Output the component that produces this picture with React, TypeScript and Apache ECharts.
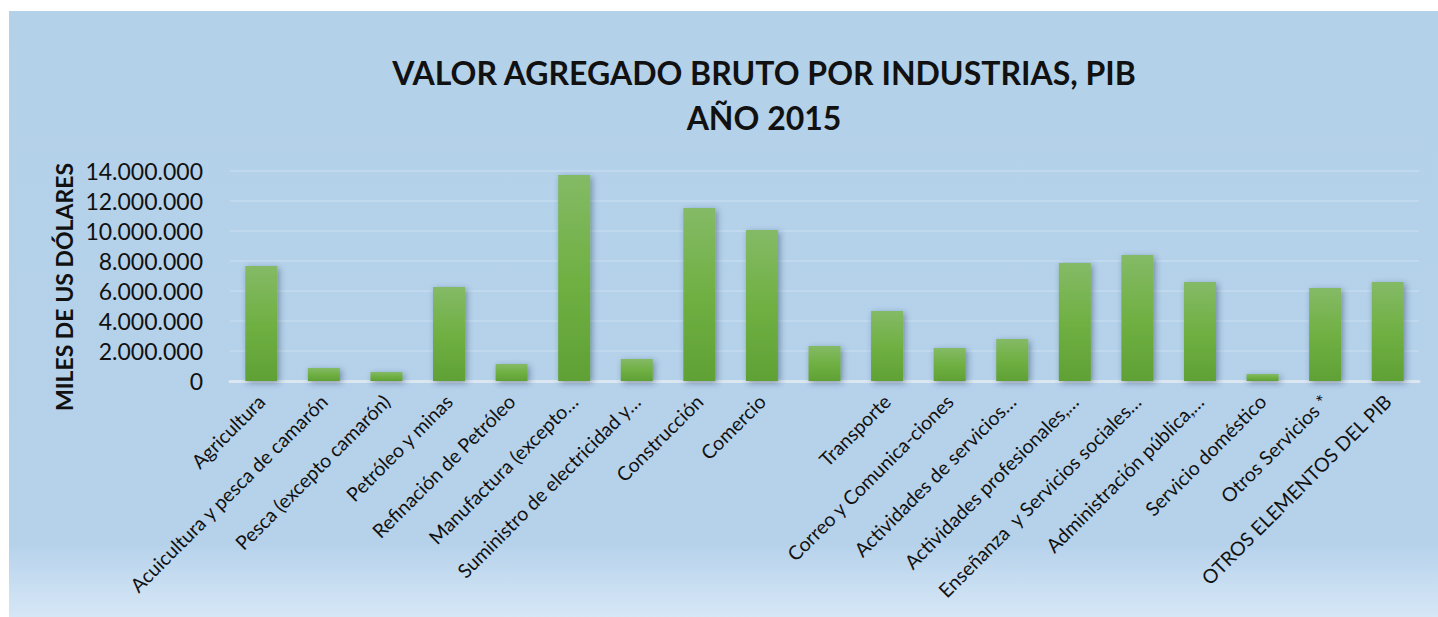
import React, { useEffect, useRef } from "react";
import * as echarts from "echarts";

const TITLE = "VALOR AGREGADO BRUTO POR INDUSTRIAS, PIB\nAÑO 2015";
const Y_NAME = "MILES DE US DÓLARES";

const categories: string[] = [
  "Agricultura",
  "Acuicultura y pesca de camarón",
  "Pesca (excepto camarón)",
  "Petróleo y minas",
  "Refinación de Petróleo",
  "Manufactura (excepto…",
  "Suministro de electricidad y…",
  "Construcción",
  "Comercio",
  "",
  "Transporte",
  "Correo y Comunica-ciones",
  "Actividades de servicios…",
  "Actividades profesionales,…",
  "Enseñanza  y Servicios sociales…",
  "Administración pública,…",
  "Servicio doméstico",
  "Otros Servicios *",
  "OTROS ELEMENTOS DEL PIB",
];

const values: number[] = [
  7670000, 870000, 600000, 6270000, 1130000, 13730000, 1470000, 11530000,
  10070000, 2330000, 4670000, 2200000, 2800000, 7870000, 8400000, 6600000,
  470000, 6200000, 6600000,
];

const yTicks = { min: 0, max: 14000000, interval: 2000000 };

const fmt = (v: number) =>
  v === 0 ? "0" : String(Math.round(v)).replace(/\B(?=(\d{3})+(?!\d))/g, ".");

export default function App() {
  const ref = useRef<HTMLDivElement>(null);
  useEffect(() => {
    if (!ref.current) return;
    const chart = echarts.init(ref.current, undefined, { renderer: "svg" });
    const font = "Lato, 'Open Sans', sans-serif";
    chart.setOption({
      animation: false,
      backgroundColor: {
        type: "linear",
        x: 0,
        y: 0,
        x2: 0,
        y2: 1,
        colorStops: [
          { offset: 0, color: "#b4d1ea" },
          { offset: 0.88, color: "#b6d2eb" },
          { offset: 1, color: "#d6e7f6" },
        ],
      },
      title: {
        text: TITLE,
        left: 750,
        top: 34,
        textAlign: "center",
        textStyle: {
          fontFamily: font,
          fontWeight: "bold",
          fontSize: 32,
          lineHeight: 45,
          color: "#111",
        },
      },
      graphic: [
        {
          type: "text",
          x: 55,
          y: 276,
          rotation: Math.PI / 2,
          style: {
            text: Y_NAME,
            font: `bold 23px ${font}`,
            fill: "#111",
            textAlign: "center",
            textVerticalAlign: "middle",
          },
        },
      ],
      grid: { left: 221, right: 19, top: 160, bottom: 236, containLabel: false },
      xAxis: {
        type: "category",
        data: categories,
        axisTick: { show: false },
        axisLine: { lineStyle: { color: "#dbe6f1", width: 3 } },
        axisLabel: {
          interval: 0,
          rotate: 45,
          margin: 17,
          fontFamily: font,
          fontSize: 19.5,
          color: "#111",
        },
      },
      yAxis: {
        type: "value",
        min: yTicks.min,
        max: yTicks.max,
        interval: yTicks.interval,
        axisLine: { show: false },
        axisTick: { show: false },
        splitLine: { lineStyle: { color: "#c0d9ee", width: 2 } },
        axisLabel: {
          formatter: fmt,
          margin: 27,
          fontFamily: font,
          fontSize: 23,
          color: "#111",
        },
      },
      series: [
        {
          type: "bar",
          data: values,
          barWidth: 32,
          itemStyle: {
            color: {
              type: "linear",
              x: 0,
              y: 0,
              x2: 0,
              y2: 1,
              colorStops: [
                { offset: 0, color: "#84ba66" },
                { offset: 0.5, color: "#70b043" },
                { offset: 1, color: "#60a135" },
              ],
            },
            shadowColor: "rgba(40,50,80,0.45)",
            shadowBlur: 6,
            shadowOffsetX: 2,
            shadowOffsetY: 2,
          },
        },
      ],
    });
    return () => chart.dispose();
  }, []);
  return (
    <div
      ref={ref}
      style={{ position: "absolute", left: 9, top: 11, width: 1429, height: 606 }}
    />
  );
}
